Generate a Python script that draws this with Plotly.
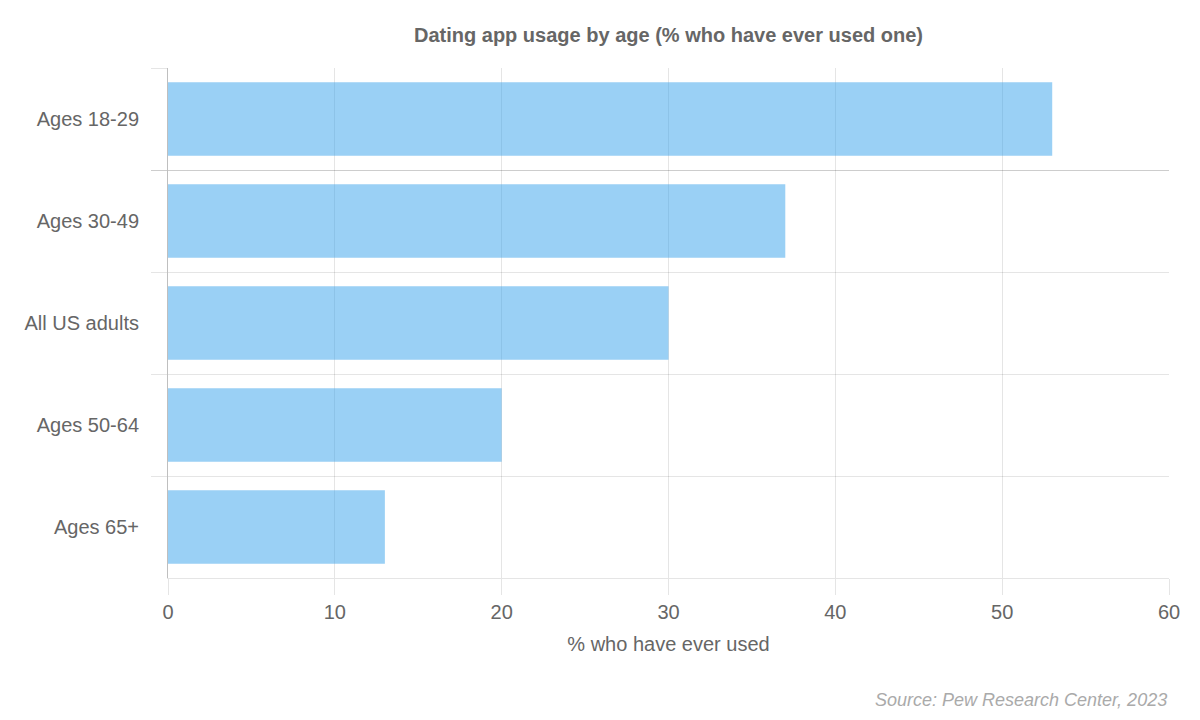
import plotly.graph_objects as go

categories = ["Ages 18-29", "Ages 30-49", "All US adults", "Ages 50-64", "Ages 65+"]
values = [53, 37, 30, 20, 13]
x_ticks = [0, 10, 20, 30, 40, 50, 60]

grid = "rgba(0,0,0,0.1)"
fig = go.Figure(go.Bar(
    x=values, y=categories, orientation="h", width=0.72,
    marker=dict(color="rgba(54,162,235,0.5)", line=dict(width=0)),
))
fig.update_layout(
    width=1184, height=704, plot_bgcolor="white", paper_bgcolor="white",
    margin=dict(l=160, r=12, t=60, b=134),
    font=dict(family="Liberation Sans, Arial, sans-serif", size=20, color="#666"),
    title=dict(text="<b>Dating app usage by age (% who have ever used one)</b>",
               x=0.5, xref="paper", y=1 - 27/704, yanchor="middle",
               font=dict(size=20, color="#666")),
    showlegend=False,
    annotations=[dict(text="<i>Source: Pew Research Center, 2023</i>", xref="paper", yref="paper",
                      x=1, y=-122/510, xanchor="right", yanchor="middle", showarrow=False,
                      font=dict(size=18, color="#aaa"))],
)
fig.update_xaxes(range=[0, 60], tickvals=x_ticks, showgrid=True, gridcolor=grid, gridwidth=1,
                 ticks="outside", ticklen=16, tickcolor=grid, zeroline=False,
                 showline=True, linecolor=grid, mirror=False,
                 title=dict(text="% who have ever used", standoff=14, font=dict(size=20, color="#666")))
fig.update_yaxes(categoryorder="array", categoryarray=categories, autorange="reversed",
                 tickson="boundaries", ticks="outside", ticklen=16, tickcolor=grid,
                 ticklabelstandoff=24, zeroline=False,
                 showgrid=True, gridcolor=grid, showline=True, linecolor="rgba(0,0,0,0.25)")
fig.write_html("out.html")
